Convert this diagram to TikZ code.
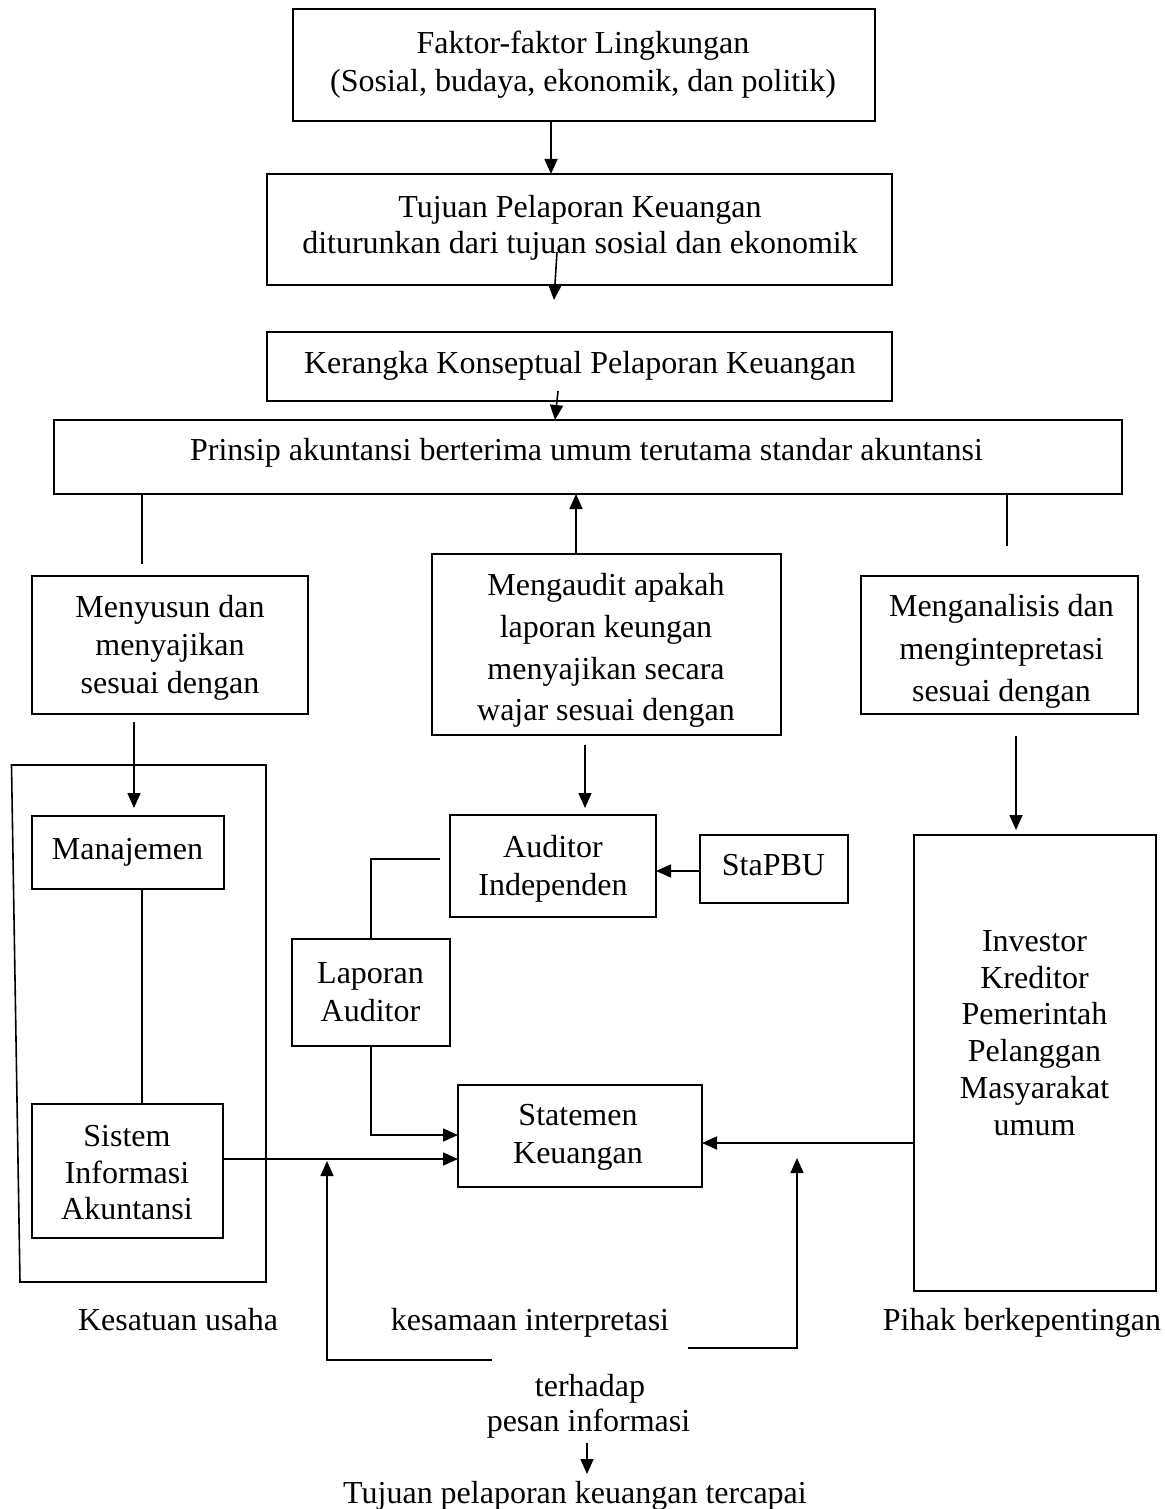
\documentclass[tikz,border=0pt]{standalone}
\usepackage{fontspec}
\setmainfont{Liberation Serif}
\usetikzlibrary{arrows.meta}
\begin{document}
\begin{tikzpicture}[x=1bp,y=-1bp,
  box/.style={draw, line width=1.6bp, inner sep=0pt, outer sep=0pt, anchor=north west},
  txt/.style={font=\fontsize{32bp}{38bp}\selectfont, align=center, inner sep=0pt, yshift=-3bp},
  one/.style={txt, text height=22bp, text depth=7bp},
  ln/.style={line width=1.6bp},
  arr/.style={line width=1.6bp, -{Triangle[length=15bp,width=13bp]}}]
\useasboundingbox (0,0) rectangle (1164,1509);

% boxes
\node[box, minimum width=582bp, minimum height=112bp] (faktor) at (293,9) {};
\node[box, minimum width=625bp, minimum height=111bp] (tujuan) at (267,174) {};
\node[box, minimum width=625bp, minimum height=69bp] (kerangka) at (267,332) {};
\node[box, minimum width=1068bp, minimum height=74bp] (prinsip) at (54,420) {};
\node[box, minimum width=276bp, minimum height=138bp] (menyusun) at (32,576) {};
\node[box, minimum width=349bp, minimum height=181bp] (audit) at (432,554) {};
\node[box, minimum width=277bp, minimum height=138bp] (analisis) at (861,576) {};
\node[box, minimum width=192bp, minimum height=73bp] (manajemen) at (32,816) {};
\node[box, minimum width=191bp, minimum height=134bp] (sia) at (32,1104) {};
\node[box, minimum width=206bp, minimum height=102bp] (auditor) at (450,815) {};
\node[box, minimum width=148bp, minimum height=68bp] (stapbu) at (700,835) {};
\node[box, minimum width=158bp, minimum height=107bp] (laporan) at (292,939) {};
\node[box, minimum width=244bp, minimum height=102bp] (statemen) at (458,1085) {};
\node[box, minimum width=242bp, minimum height=456bp] (pihak) at (914,835) {};

% container of Kesatuan usaha
\draw[ln] (11.5,765) -- (266,765) -- (266,1282) -- (20,1282) -- cycle;

% texts
\node[txt] (tfaktor) at (583,61.5) {Faktor-faktor Lingkungan\\(Sosial, budaya, ekonomik, dan politik)};
\node[txt, font=\fontsize{32bp}{36bp}\selectfont] (ttujuan) at (580,225) {Tujuan Pelaporan Keuangan\\diturunkan dari tujuan sosial dan ekonomik};
\node[one] (tkerangka) at (580,363) {Kerangka Konseptual Pelaporan Keuangan};
\node[one] (tprinsip) at (586.5,450) {Prinsip akuntansi berterima umum terutama standar akuntansi};
\node[txt] (tmenyusun) at (170,644.5) {Menyusun dan\\menyajikan\\sesuai dengan};
\node[txt, font=\fontsize{32bp}{41.7bp}\selectfont] (taudit) at (606,647.5) {Mengaudit apakah\\laporan keungan\\menyajikan secara\\wajar sesuai dengan};
\node[txt, font=\fontsize{32bp}{42.5bp}\selectfont] (tanalisis) at (1001.5,648.5) {Menganalisis dan\\mengintepretasi\\sesuai dengan};
\node[one] (tmanajemen) at (127.5,849) {Manajemen};
\node[txt, font=\fontsize{32bp}{36.5bp}\selectfont] (tsia) at (127,1170) {Sistem\\Informasi\\Akuntansi};
\node[txt] (tauditor) at (553,866) {Auditor\\Independen};
\node[one] (tstapbu) at (773.5,865) {StaPBU};
\node[txt] (tlaporan) at (370.5,989) {Laporan\\Auditor};
\node[txt] (tstatemen) at (578,1134) {Statemen\\Keuangan};
\node[txt, font=\fontsize{32bp}{36.8bp}\selectfont] (tpihak) at (1034.5,1030) {Investor\\Kreditor\\Pemerintah\\Pelanggan\\Masyarakat\\umum};
\node[one] (tkesatuan) at (178,1320) {Kesatuan usaha};
\node[one] (tkesamaan) at (530,1320) {kesamaan interpretasi};
\node[one] (tpihakb) at (1022,1320) {Pihak berkepentingan};
\node[one] (tterhadap) at (590,1386) {terhadap};
\node[one] (tpesan) at (588.5,1421) {pesan informasi};
\node[one] (tcapai) at (575,1493) {Tujuan pelaporan keuangan tercapai};

% helper coordinates
\coordinate (a2s) at (557,252);
\coordinate (a2e) at (554,300);
\coordinate (a3s) at (558,391);
\coordinate (a3x) at (555,0);
\coordinate (l1e) at (142,564);
\coordinate (r1e) at (1007,546);
\coordinate (upx) at (576,0);
\coordinate (m1s) at (134,722);
\coordinate (m1e) at (134,808);
\coordinate (sx) at (142,0);
\coordinate (d1s) at (585,745);
\coordinate (d1e) at (585,808);
\coordinate (d2s) at (1016,736);
\coordinate (d2e) at (1016,830);
\coordinate (al) at (440,859);
\coordinate (sse) at ([yshift=12bp]sia.east);
\coordinate (pw) at ([yshift=-80bp]pihak.west);
\coordinate (bl) at (492,1360);
\coordinate (blt) at (327,1161);
\coordinate (br) at (688,1348);
\coordinate (brt) at (797,1158);
\coordinate (fs) at (587,1443);
\coordinate (fe) at (587,1474);

% connectors
\draw[arr] ([xshift=-33bp]faktor.south) -- ([xshift=-28.5bp]tujuan.north);
\draw[arr] (a2s) -- (a2e);
\draw[arr] (a3s) -- (prinsip.north -| a3x);
\draw[ln] (prinsip.south -| l1e) -- (l1e);
\draw[ln] (prinsip.south -| r1e) -- (r1e);
\draw[arr] (audit.north -| upx) -- (prinsip.south -| upx);
\draw[arr] (m1s) -- (m1e);
\draw[ln] (manajemen.south -| sx) -- (sia.north -| sx);
\draw[arr] (d1s) -- (d1e);
\draw[arr] (d2s) -- (d2e);
\draw[arr] ([yshift=-2bp]stapbu.west) -- ([yshift=-5bp]auditor.east);
\draw[ln] (al) -- (al -| laporan.north) -- (laporan.north);
\draw[arr] (laporan.south) |- ([yshift=1bp]statemen.west);
\draw[arr] (sse) -- (sse -| statemen.west);
\draw[arr] (pw) -- (pw -| statemen.east);
\draw[arr] (bl) -| (blt);
\draw[arr] (br) -| (brt);
\draw[arr] (fs) -- (fe);
\end{tikzpicture}
\end{document}
